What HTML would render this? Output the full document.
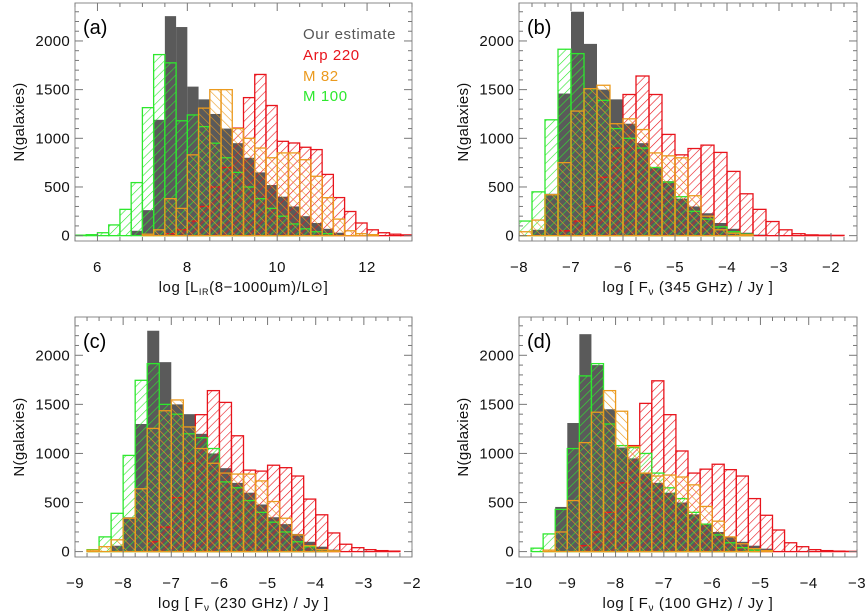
<!DOCTYPE html>
<html><head><meta charset="utf-8">
<style>
html,body{margin:0;padding:0;background:#fff;}
svg{display:block;font-family:"Liberation Sans","DejaVu Sans",sans-serif;}
</style></head>
<body>
<svg id="fig" width="867" height="611" viewBox="0 0 867 611" xmlns="http://www.w3.org/2000/svg">
<defs>
<pattern id="hRed" patternUnits="userSpaceOnUse" width="6" height="6" patternTransform="rotate(45)"><line x1="0" y1="0" x2="0" y2="6" stroke="#e8141c" stroke-width="1.2"/></pattern>
<pattern id="hGreen" patternUnits="userSpaceOnUse" width="6" height="6" patternTransform="rotate(45) translate(3,0)"><line x1="0" y1="0" x2="0" y2="6" stroke="#2ee82e" stroke-width="1.2"/></pattern>
<pattern id="hOrange" patternUnits="userSpaceOnUse" width="6" height="6" patternTransform="rotate(-45)"><line x1="0" y1="0" x2="0" y2="6" stroke="#eb9a1e" stroke-width="1.2"/></pattern>
</defs>
</svg>
<script>
// ---- Panel (a): log L_IR ----
const aGrayStart = 6.75;
const aGray = [50, 262, 1190, 2255, 2143, 1531, 1400, 1250, 1100, 950, 800, 650, 520, 400, 300, 200, 130, 70, 30];
const aRedStart = 7.5;
const aRed = [20, 60, 150, 300, 500, 700, 1105, 1418, 1656, 1337, 969, 952, 908, 884, 629, 391, 248, 130, 60, 30, 15, 8];
const aOrangeStart = 7.0;
const aOrange = [15, 60, 380, 280, 830, 1310, 1500, 1500, 1100, 1000, 900, 800, 850, 850, 780, 610, 390, 170, 50, 20, 10];
const aGreenStart = 5.5;
const aGreen = [5, 10, 30, 110, 270, 545, 1315, 1860, 1775, 1180, 1240, 1120, 950, 800, 650, 500, 380, 280, 200, 120, 70, 40, 20];
const aXTicks = [6, 8, 10, 12];
// ---- Panel (b): 345 GHz ----
const bGrayStart = -7.75;
const bGray = [60, 430, 1460, 2300, 1970, 1500, 1400, 1150, 950, 700, 560, 380, 300, 230, 130, 70, 30, 10];
const bRedStart = -7.25;
const bRed = [50, 150, 300, 600, 900, 1450, 1640, 1450, 1040, 830, 895, 930, 855, 660, 430, 270, 145, 60, 20, 8, 5, 3];
const bOrangeStart = -8;
const bOrange = [40, 160, 420, 750, 1280, 1510, 1545, 1150, 1200, 1090, 850, 820, 800, 410, 200, 60, 25, 10];
const bGreenStart = -8;
const bGreen = [150, 450, 1190, 1915, 1870, 1510, 1390, 1100, 1000, 900, 700, 550, 400, 250, 170, 90, 40, 15];
const bXTicks = [-8, -7, -6, -5, -4, -3, -2];
// ---- Panel (c): 230 GHz ----
const cGrayStart = -8.25;
const cGray = [60, 350, 1300, 2250, 1930, 1500, 1400, 1200, 1000, 850, 700, 600, 480, 350, 280, 180, 100, 50, 20];
const cRedStart = -7.5;
const cRed = [100, 250, 550, 900, 1395, 1640, 1520, 1180, 830, 820, 880, 855, 770, 535, 375, 190, 75, 40, 20, 10, 5];
const cOrangeStart = -8.75;
const cOrange = [15, 50, 120, 340, 640, 1255, 1435, 1545, 1270, 1050, 900, 800, 790, 790, 720, 510, 340, 170, 60, 20, 8];
const cGreenStart = -8.75;
const cGreen = [20, 150, 390, 980, 1745, 1915, 1500, 1400, 1200, 1160, 1050, 710, 650, 520, 400, 300, 200, 100, 50, 20];
const cXTicks = [-9, -8, -7, -6, -5, -4, -3, -2];
// ---- Panel (d): 100 GHz ----
const dGrayStart = -9.25;
const dGray = [455, 1310, 2215, 1900, 1450, 1060, 950, 800, 700, 600, 500, 380, 280, 200, 150, 100, 60, 30];
const dRedStart = -8.75;
const dRed = [60, 200, 400, 700, 1080, 1510, 1740, 1395, 1025, 800, 840, 890, 835, 770, 540, 370, 220, 90, 50, 20, 10, 5, 3];
const dOrangeStart = -9.5;
const dOrange = [15, 200, 520, 1110, 1420, 1640, 1430, 1070, 800, 770, 780, 760, 680, 460, 310, 150, 80, 30, 10];
const dGreenStart = -9.75;
const dGreen = [35, 180, 430, 1050, 1790, 1915, 1300, 1080, 1060, 1000, 800, 650, 540, 400, 280, 170, 90, 40, 15];
const dXTicks = [-10, -9, -8, -7, -6, -5, -4, -3];
const yTicks = [0, 500, 1000, 1500, 2000];
const binWidth = 0.25;

const NS = "http://www.w3.org/2000/svg";
const svg = document.getElementById('fig');
function mk(tag, attrs, parent) {
  const e = document.createElementNS(NS, tag);
  for (const k in attrs) e.setAttribute(k, attrs[k]);
  (parent || svg).appendChild(e);
  return e;
}

function panel(p) {
  const g = mk('g', {});
  
  
  const ymin = -55, ymax = 2390;
  const sx = v => p.x0 + (v - p.xmin) / (p.xmax - p.xmin) * (p.x1 - p.x0);
  const sy = v => p.y1 - (v - ymin) / (ymax - ymin) * (p.y1 - p.y0);
  const clip = mk('clipPath', {id: 'clip' + p.id}, g);
  mk('rect', {x: p.x0, y: p.y0, width: p.x1 - p.x0, height: p.y1 - p.y0}, clip);
  const series = [
    {name: 'gray', start: p.grayStart, vals: p.gray, fill: '#5a5a5a', stroke: 'none'},
    {name: 'arp220', start: p.redStart, vals: p.red, fill: 'url(#hRed)', stroke: '#e8141c'},
    {name: 'm100', start: p.greenStart, vals: p.green, fill: 'url(#hGreen)', stroke: '#2ee82e'},
    {name: 'm82', start: p.orangeStart, vals: p.orange, fill: 'url(#hOrange)', stroke: '#eb9a1e'}
  ];
  series.forEach(s => {
    const sg = mk('g', {'clip-path': 'url(#clip' + p.id + ')'}, g);
    
    
    s.vals.forEach((v, i) => {
      const xl = s.start + i * binWidth;
      const a = sx(xl), b = sx(xl + binWidth);
      const r = mk('rect', {x: a, y: sy(v), width: b - a, height: sy(0) - sy(v), fill: s.fill,
        stroke: s.stroke, 'stroke-width': 1.3}, sg);
      
      
    });
  });
  const fr = mk('rect', {x: p.x0, y: p.y0, width: p.x1 - p.x0, height: p.y1 - p.y0, fill: 'none', stroke: '#8a8a8a', 'stroke-width': 1}, g);
  
  
  const xt = mk('g', {}, g);
  
  
  for (let v = Math.ceil(p.xmin / p.minor) * p.minor; v <= p.xmax + 1e-9; v += p.minor) {
    const x = sx(v);
    const isMajor = p.xticks.some(t => Math.abs(t - v) < 1e-6);
    const L = isMajor ? 8 : 4;
    mk('line', {x1: x, x2: x, y1: p.y1, y2: p.y1 - L, stroke: '#777', 'stroke-width': 1}, xt);
    mk('line', {x1: x, x2: x, y1: p.y0, y2: p.y0 + L, stroke: '#777', 'stroke-width': 1}, xt);
  }
  p.xticks.forEach(t => {
    const tx = mk('text', {x: sx(t), y: p.y1 + 31, 'text-anchor': 'middle', 'font-size': 15, fill: '#111', 'letter-spacing': '0.5'}, xt);
    tx.textContent = t < 0 ? '\u2212' + Math.abs(t) : String(t);
    
    
  });
  const yt = mk('g', {}, g);
  
  
  for (let v = 0; v <= 2300; v += 100) {
    const y = sy(v);
    const L = v % 500 === 0 ? 8 : 4;
    mk('line', {x1: p.x0, x2: p.x0 + L, y1: y, y2: y, stroke: '#777', 'stroke-width': 1}, yt);
    mk('line', {x1: p.x1, x2: p.x1 - L, y1: y, y2: y, stroke: '#777', 'stroke-width': 1}, yt);
  }
  yTicks.forEach(t => {
    const tx = mk('text', {x: p.x0 - 5, y: sy(t) + 5, 'text-anchor': 'end', 'font-size': 15, fill: '#111', 'letter-spacing': '0.3'}, yt);
    tx.textContent = String(t);
    
    
  });
  const yl = mk('text', {x: p.x0 - 51, y: (p.y0 + p.y1) / 2, 'text-anchor': 'middle', 'font-size': 15, fill: '#111', 'letter-spacing': '0.3',
    transform: 'rotate(-90 ' + (p.x0 - 51) + ' ' + ((p.y0 + p.y1) / 2) + ')'}, g);
  yl.textContent = 'N(galaxies)';
  
  
  const pl = mk('text', {x: p.x0 + 8, y: p.y0 + 31, 'font-size': 20, fill: '#000'}, g);
  pl.textContent = '(' + p.id + ')';
  
  
  const xl = mk('text', {x: (p.x0 + p.x1) / 2, y: p.y1 + 51, 'text-anchor': 'middle', 'font-size': 15, fill: '#111', 'letter-spacing': '0.6'}, g);
  xl.innerHTML = p.xlabel;
  
  
}

panel({id: 'a', x0: 75, x1: 412, y0: 3, y1: 241, xmin: 5.5, xmax: 13, minor: 0.5, xticks: aXTicks,
  grayStart: aGrayStart, gray: aGray, redStart: aRedStart, red: aRed, orangeStart: aOrangeStart, orange: aOrange, greenStart: aGreenStart, green: aGreen,
  xlabel: 'log [L<tspan font-size="9" dy="3">IR</tspan><tspan dy="-3">(8\u22121000\u03bcm)/L\u2299]</tspan>'});
panel({id: 'b', x0: 519, x1: 857, y0: 3, y1: 241, xmin: -8, xmax: -1.5, minor: 0.25, xticks: bXTicks,
  grayStart: bGrayStart, gray: bGray, redStart: bRedStart, red: bRed, orangeStart: bOrangeStart, orange: bOrange, greenStart: bGreenStart, green: bGreen,
  xlabel: 'log [ F<tspan font-size="10" dy="3">\u03bd</tspan><tspan dy="-3"> (345 GHz) / Jy ]</tspan>'});
panel({id: 'c', x0: 75, x1: 412, y0: 317, y1: 557, xmin: -9, xmax: -2, minor: 0.25, xticks: cXTicks,
  grayStart: cGrayStart, gray: cGray, redStart: cRedStart, red: cRed, orangeStart: cOrangeStart, orange: cOrange, greenStart: cGreenStart, green: cGreen,
  xlabel: 'log [ F<tspan font-size="10" dy="3">\u03bd</tspan><tspan dy="-3"> (230 GHz) / Jy ]</tspan>'});
panel({id: 'd', x0: 519, x1: 857, y0: 317, y1: 557, xmin: -10, xmax: -3, minor: 0.25, xticks: dXTicks,
  grayStart: dGrayStart, gray: dGray, redStart: dRedStart, red: dRed, orangeStart: dOrangeStart, orange: dOrange, greenStart: dGreenStart, green: dGreen,
  xlabel: 'log [ F<tspan font-size="10" dy="3">\u03bd</tspan><tspan dy="-3"> (100 GHz) / Jy ]</tspan>'});

const lg = mk('g', {});


[['Our estimate', '#555555', 39], ['Arp 220', '#e8141c', 60], ['M 82', '#eb9a1e', 81], ['M 100', '#2ee82e', 101]].forEach(e => {
  const t = mk('text', {x: 303, y: e[2], 'font-size': 15, fill: e[1], 'letter-spacing': '0.6'}, lg);
  t.textContent = e[0];
  
  
});
</script>
</body></html>
